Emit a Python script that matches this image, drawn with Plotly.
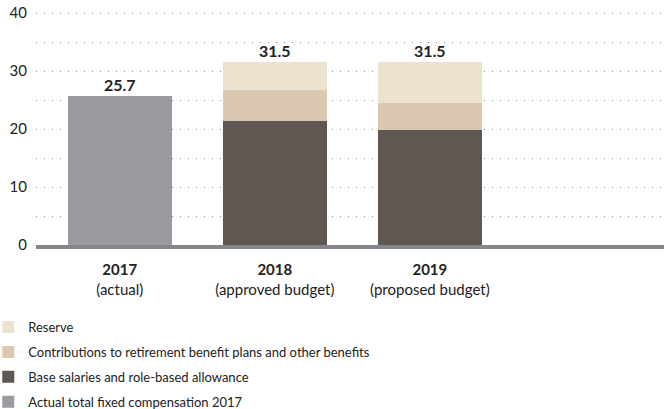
import plotly.graph_objects as go

categories = ["2017", "2018", "2019"]
subtitles = ["(actual)", "(approved budget)", "(proposed budget)"]
actual_2017 = [25.7, None, None]
base_salaries = [None, 21.4, 19.8]
contributions = [None, 5.3, 4.7]
reserve = [None, 4.8, 7.0]
totals = [25.7, 31.5, 31.5]
y_ticks = [0, 5, 10, 15, 20, 25, 30, 35, 40]

xpos = list(range(len(categories)))
FONT = "Lato, Roboto, Arial"
W = 0.67

fig = go.Figure()
series = [
    (actual_2017, "Actual total fixed compensation 2017", "#9a9b9f", 4),
    (base_salaries, "Base salaries and role-based allowance", "#5f5852", 3),
    (contributions, "Contributions to retirement benefit plans and other benefits", "#dbc8b0", 2),
    (reserve, "Reserve", "#ede2cf", 1),
]
for vals, name, col, rank in series:
    fig.add_bar(x=xpos, y=vals, name=name, legendgroup=name, legendrank=rank,
                marker=dict(color=col, line=dict(width=0)), width=W)

for xi, t in zip(xpos, totals):
    fig.add_annotation(x=xi, y=t, text=f"<b>{t:.1f}</b>", showarrow=False,
                       yanchor="bottom", yshift=0, font=dict(size=16, color="#222222", family=FONT))

fig.add_shape(type="rect", xref="paper", yref="y", x0=0, x1=1, y0=-0.69, y1=0,
              fillcolor="#86868a", line_width=0, layer="above")

fig.update_layout(
    width=664, height=409,
    margin=dict(l=36, r=0, t=12, b=160, autoexpand=False),
    barmode="stack",
    plot_bgcolor="white", paper_bgcolor="white",
    font=dict(family=FONT, color="#222222", size=14),
    xaxis=dict(range=[-0.54, 3.51], tickvals=xpos,
               ticktext=[f"<b>{c}</b><br>{s}" for c, s in zip(categories, subtitles)],
               showgrid=False, zeroline=False, showline=False, ticks="", tickangle=0,
               tickfont=dict(size=15, color="#222222"), ticklabelstandoff=10),
    yaxis=dict(range=[-0.69, 40.2], tickvals=y_ticks,
               ticktext=[str(v) if v % 10 == 0 else "" for v in y_ticks],
               showgrid=True, gridcolor="#888888", gridwidth=1, griddash="1px,7px",
               zeroline=False, showline=False, ticks="",
               tickfont=dict(size=15, color="#222222"), ticklabelstandoff=8),
    legend=dict(xref="paper", yref="container", x=-0.076, y=0.237,
                xanchor="left", yanchor="top", traceorder="grouped",
                font=dict(size=13, color="#222222"), itemwidth=30,
                tracegroupgap=5),
    showlegend=True,
)

fig.write_html("out.html")
